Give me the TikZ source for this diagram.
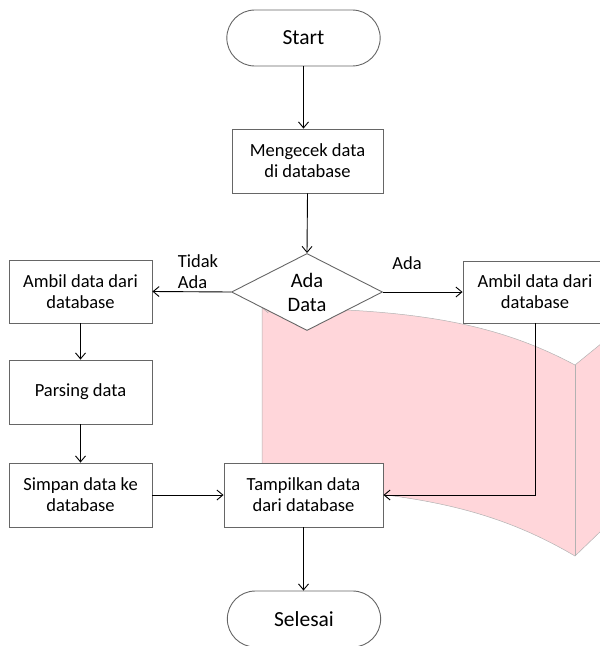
\documentclass[tikz,border=0pt]{standalone}
\usepackage{fontspec}
\setmainfont{Carlito}
\usepackage{tikz}
\usetikzlibrary{shapes}
\usetikzlibrary{arrows.meta}
\definecolor{curlpink}{RGB}{255,214,218}
\tikzset{
	term node/.style={rounded rectangle,draw=gray!80!black,fill=white,minimum width=160pt,minimum height=56pt,font=\fontsize{21.5}{24}\selectfont},
	proc node/.style={rectangle,draw=gray!80!black,fill=white,minimum height=64pt,align=center,font=\fontsize{18.5}{21}\selectfont},
	dec node/.style={diamond,draw=gray!80!black,fill=white,minimum width=151pt,minimum height=71pt,inner sep=0pt,align=center,font=\fontsize{20.5}{24}\selectfont},
	side label/.style={align=left,font=\fontsize{18.5}{21}\selectfont}
}

\begin{document}
\begin{tikzpicture}[x=1pt,y=-1pt,->,>={Straight Barb[length=6pt,width=10pt]},line width=0.9pt]
				    \clip (0,0) rectangle (600,646);
				    \fill [curlpink,draw=gray!60,line width=0.5pt] (262,308) -- (262,487) .. controls (420,490) and (500,512) .. (575,556) -- (602,530) -- (602,343) -- (575,365) .. controls (500,325) and (420,308) .. (262,308);
				    \draw [-,gray!60,line width=0.5pt] (575,365) -- (575,556);
				    \node [term node] (start) at (303.5,38) {Start};
				    \node [proc node,minimum width=151pt] (check) at (307.5,161) {Mengecek data\\di database};
				    \node [dec node] (dec) at (307,292) {Ada\\Data};
				    \node [proc node,minimum width=143pt,minimum height=63pt] (fetchL) at (80.5,291.5) {Ambil data dari\\database};
				    \node [proc node,minimum width=144pt,minimum height=62pt] (fetchR) at (535,292) {Ambil data dari\\database};
				    \node [proc node,minimum width=143pt] (parse) at (80.5,392) {Parsing data};
				    \node [proc node,minimum width=143pt] (save) at (80.5,495) {Simpan data ke\\database};
				    \node [proc node,minimum width=159pt] (show) at (303.5,495) {Tampilkan data\\dari database};
				    \node [term node] (stop) at (304,619) {Selesai};
				    \node [side label] (lblno) at (198,272) {Tidak\\Ada};
				    \node [side label] (lblyes) at (407,263) {Ada};
				    \draw (start.south) -- (start.south |- check.north);
				    \draw (check.south) -- (dec.north);
				    \draw (dec.west) -- (fetchL.east);
				    \draw (dec.east) -- (fetchR.west);
				    \draw (fetchL) -- (parse);
				    \draw (parse) -- (save);
				    \draw (save) -- (show);
				    \draw (fetchR.south) |- (show.east);
				    \draw (show.south) -- (show.south |- stop.north);
				  \end{tikzpicture}
\end{document}
